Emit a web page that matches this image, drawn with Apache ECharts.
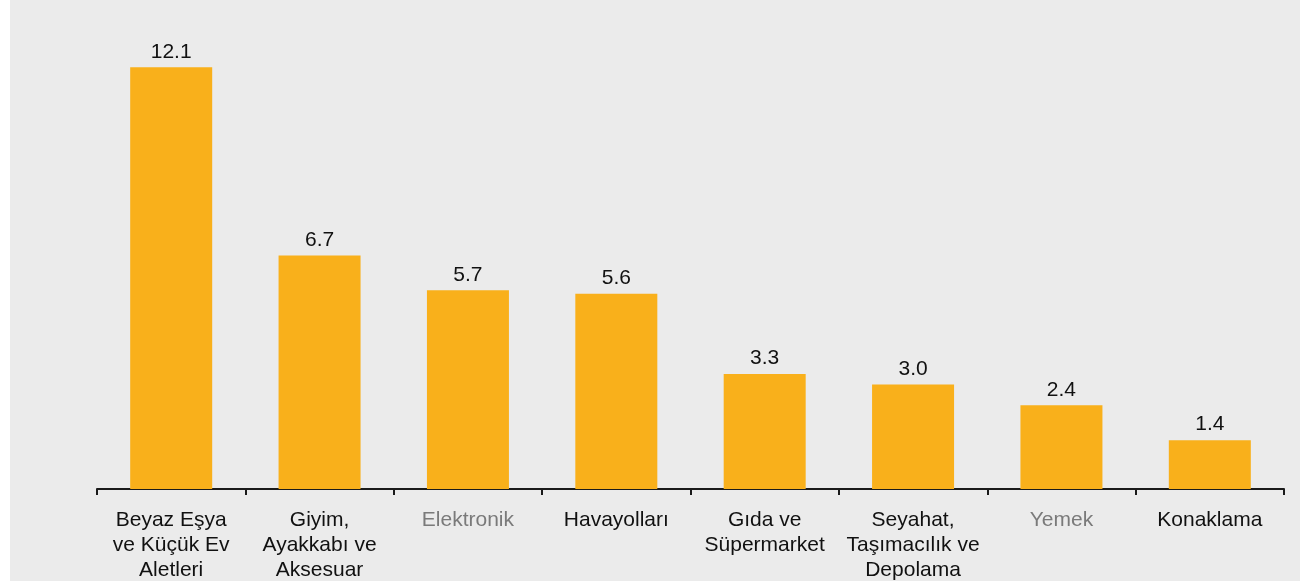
<!DOCTYPE html>
<html>
<head>
<meta charset="utf-8">
<script src="https://cdn.jsdelivr.net/npm/echarts@6/dist/echarts.min.js"></script>
<style>
  html, body { margin: 0; padding: 0; background: #ffffff; }
  #chart { position: absolute; left: 10px; top: 0; width: 1290px; height: 581px; background: #ebebeb; }
</style>
</head>
<body>
<div id="chart"></div>
<script>
// Sector categories (line breaks as they are set under the axis)
const categories = [
  'Beyaz Eşya\nve Küçük Ev\nAletleri',
  'Giyim,\nAyakkabı ve\nAksesuar',
  'Elektronik',
  'Havayolları',
  'Gıda ve\nSüpermarket',
  'Seyahat,\nTaşımacılık ve\nDepolama',
  'Yemek',
  'Konaklama'
];
// Values per sector
const values = [12.1, 6.7, 5.7, 5.6, 3.3, 3.0, 2.4, 1.4];
// Sectors whose labels are shown in muted grey
const mutedCategories = ['Elektronik', 'Yemek'];

const chart = echarts.init(document.getElementById('chart'), null, { renderer: 'canvas' });

const fontFamily = 'Liberation Sans, Arial, Helvetica, sans-serif';

chart.setOption({
  backgroundColor: '#ebebeb',
  animation: false,
  grid: { left: 87, right: 16, top: 1, bottom: 92, containLabel: false, outerBoundsMode: 'none' },
  xAxis: {
    type: 'category',
    data: categories.map(c => mutedCategories.includes(c)
      ? { value: c, textStyle: { color: '#7a7a7a' } }
      : c),
    boundaryGap: true,
    axisLine: { show: true, lineStyle: { color: '#1a1a1a', width: 2 } },
    axisTick: { show: true, alignWithLabel: false, length: 6, inside: false,
      lineStyle: { color: '#1a1a1a', width: 2 } },
    axisLabel: {
      interval: 0,
      margin: 19,
      color: '#111111',
      fontSize: 21,
      lineHeight: 25,
      fontFamily: fontFamily,
      align: 'center'
    },
    splitLine: { show: false }
  },
  yAxis: {
    type: 'value',
    min: 0,
    max: 14,
    show: false,
    splitLine: { show: false }
  },
  series: [{
    type: 'bar',
    data: values,
    barWidth: 82,
    itemStyle: { color: '#f9b01b' },
    label: {
      show: true,
      position: 'top',
      distance: 5,
      color: '#111111',
      fontSize: 21,
      fontFamily: fontFamily,
      formatter: p => p.value.toFixed(1)
    }
  }]
});
</script>
</body>
</html>
